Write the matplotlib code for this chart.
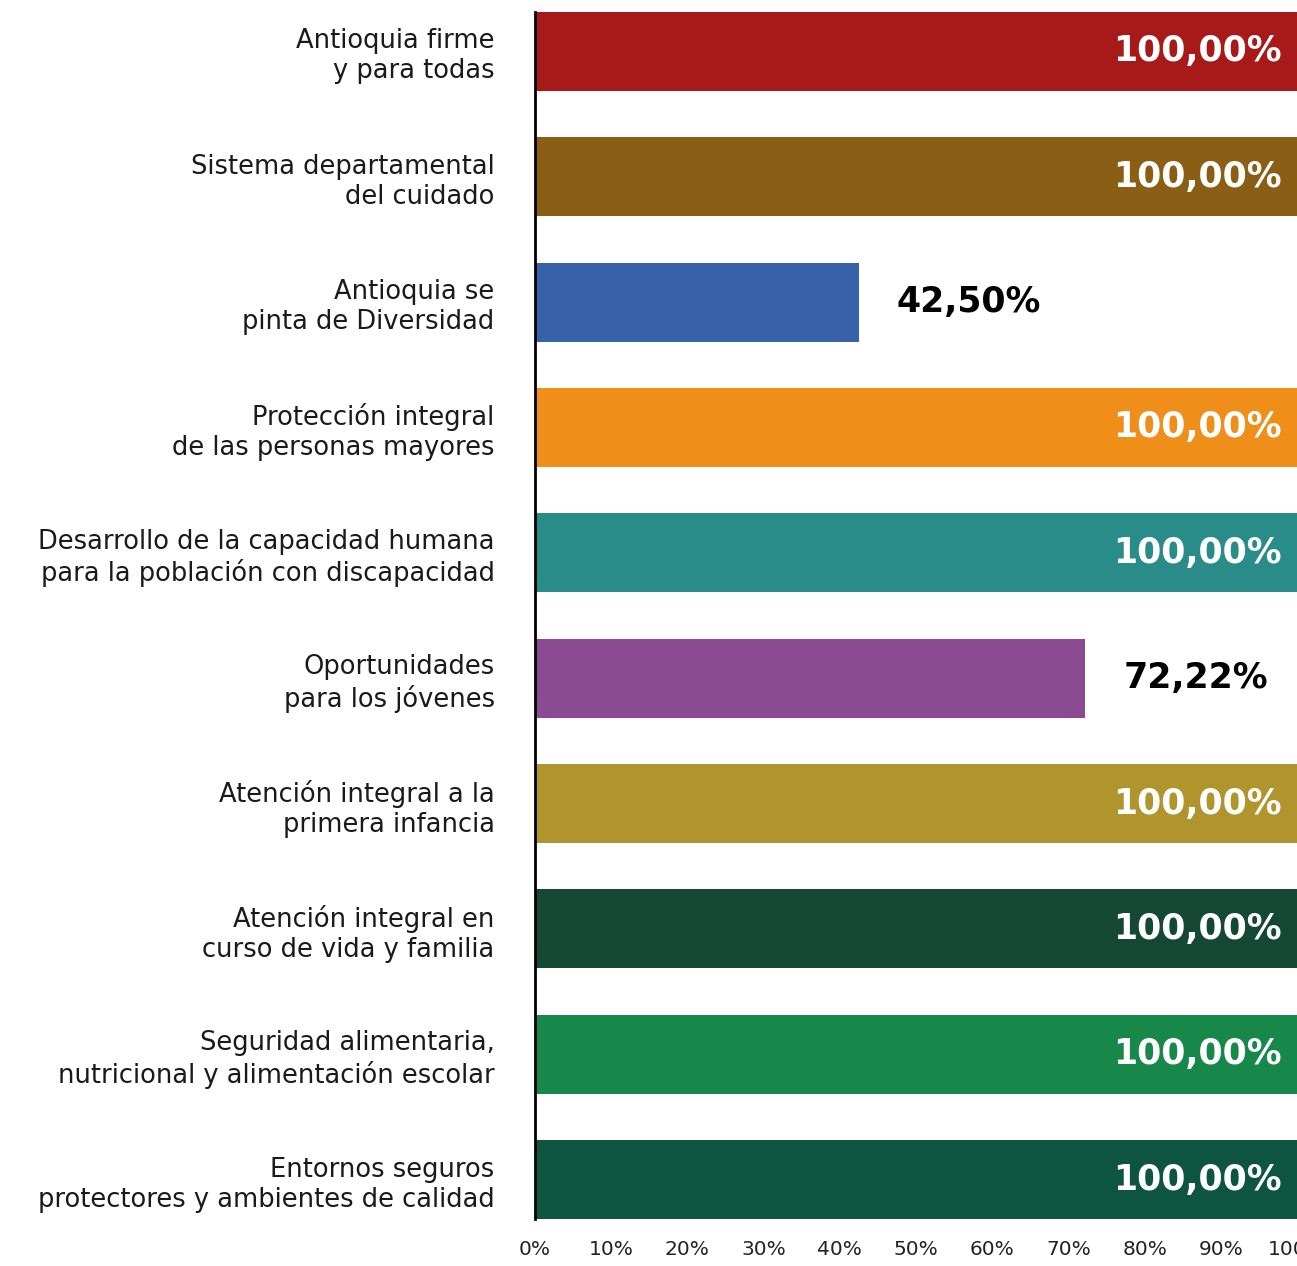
import matplotlib
matplotlib.use("Agg")
import matplotlib.pyplot as plt

categories = [
    "Antioquia firme\ny para todas",
    "Sistema departamental\ndel cuidado",
    "Antioquia se\npinta de Diversidad",
    "Protección integral\nde las personas mayores",
    "Desarrollo de la capacidad humana\npara la población con discapacidad",
    "Oportunidades\npara los jóvenes",
    "Atención integral a la\nprimera infancia",
    "Atención integral en\ncurso de vida y familia",
    "Seguridad alimentaria,\nnutricional y alimentación escolar",
    "Entornos seguros\nprotectores y ambientes de calidad",
]
values = [100.0, 100.0, 42.5, 100.0, 100.0, 72.22, 100.0, 100.0, 100.0, 100.0]
value_labels = ["100,00%", "100,00%", "42,50%", "100,00%", "100,00%", "72,22%",
                "100,00%", "100,00%", "100,00%", "100,00%"]
colors = ["#A8191A", "#8B5E15", "#3762AA", "#F08E1A", "#2A8C89", "#8B4B92",
          "#B0942C", "#154834", "#17874A", "#0D5540"]
xticks = [0, 10, 20, 30, 40, 50, 60, 70, 80, 90, 100]
xtick_labels = ["0%", "10%", "20%", "30%", "40%", "50%", "60%", "70%", "80%", "90%", "100%"]

plt.rcParams['font.family'] = ['DejaVu Sans']

fig = plt.figure(figsize=(12.97, 12.66), dpi=100)
ax = fig.add_axes([535/1297, 1 - 1219/1266, 1 - 535/1297, (1219 - 12)/1266])

pos = list(range(len(categories)))
h = 0.63
ax.barh(pos, values, height=h, color=colors, zorder=2)
ax.set_ylim(len(categories) - 1 + h/2, -h/2)
ax.set_xlim(0, 100)

for p, v, lab in zip(pos, values, value_labels):
    if v >= 99.9:
        ax.text(98.0, p, lab, ha="right", va="center", color="white",
                fontsize=25, fontweight="bold")
    else:
        ax.text(v + 5.0, p, lab, ha="left", va="center", color="black",
                fontsize=25, fontweight="bold")

ax.set_yticks(pos)
ax.set_yticklabels(categories, fontsize=18.5, ha="right", color="#1a1a1a",
                   linespacing=1.2)
ax.tick_params(axis="y", length=0, pad=29)
ax.set_xticks(xticks)
ax.set_xticklabels(xtick_labels, fontsize=14.5, color="#222222")
ax.tick_params(axis="x", length=0, pad=15)

for s in ["top", "right", "bottom"]:
    ax.spines[s].set_visible(False)
ax.spines["left"].set_color("black")
ax.spines["left"].set_linewidth(2)
ax.spines["left"].set_zorder(3)

fig.savefig("out.png", dpi=100, facecolor="white")
